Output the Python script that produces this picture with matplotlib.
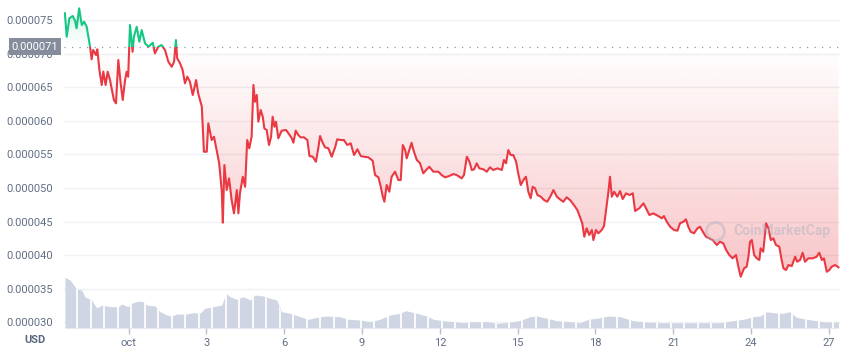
import numpy as np
import matplotlib
matplotlib.use("Agg")
import matplotlib.pyplot as plt
from matplotlib.patches import Rectangle

# ---------------- data ----------------
# time in days relative to the "oct" tick; price in millionths of USD
day = [-2.46, -2.39, -2.29, -2.16, -2.07, -2.01, -1.91, -1.81, -1.72, -1.62,
       -1.49, -1.43, -1.37, -1.26, -1.21, -1.13, -1.04, -0.98, -0.89, -0.81,
       -0.72, -0.66, -0.57, -0.49, -0.40, -0.31, -0.23, -0.14, -0.08, -0.02,
       0.05, 0.15, 0.20, 0.31, 0.41, 0.50, 0.63, 0.76, 0.93, 1.01,
       1.14, 1.27, 1.40, 1.53, 1.66, 1.75, 1.82, 1.87, 1.98, 2.08,
       2.17, 2.26, 2.36, 2.47, 2.60, 2.68, 2.82, 2.90, 3.01, 3.07,
       3.20, 3.29, 3.39, 3.49, 3.59, 3.63, 3.69, 3.78, 3.87, 3.97,
       4.06, 4.17, 4.23, 4.29, 4.40, 4.49, 4.57, 4.65, 4.74, 4.81,
       4.87, 4.94, 5.00, 5.09, 5.17, 5.23, 5.32, 5.41, 5.49, 5.55,
       5.62, 5.68, 5.77, 5.90, 6.07, 6.16, 6.29, 6.35, 6.44, 6.54,
       6.63, 6.76, 6.89, 6.97, 7.10, 7.22, 7.31, 7.38, 7.48, 7.57,
       7.70, 7.83, 7.96, 8.04, 8.18, 8.30, 8.43, 8.56, 8.69, 8.82,
       8.95, 9.07, 9.24, 9.41, 9.50, 9.63, 9.72, 9.80, 9.86, 9.95,
       10.05, 10.14, 10.27, 10.40, 10.49, 10.57, 10.66, 10.72, 10.82, 10.91,
       10.98, 11.11, 11.23, 11.36, 11.47, 11.59, 11.75, 11.94, 12.07, 12.20,
       12.36, 12.52, 12.65, 12.84, 12.93, 13.04, 13.14, 13.23, 13.32, 13.42,
       13.52, 13.68, 13.81, 13.93, 14.06, 14.22, 14.39, 14.47, 14.55, 14.64,
       14.73, 14.83, 14.94, 15.02, 15.12, 15.22, 15.32, 15.41, 15.50, 15.58,
       15.67, 15.76, 15.89, 16.02, 16.14, 16.27, 16.38, 16.51, 16.63, 16.76,
       16.89, 17.02, 17.17, 17.30, 17.40, 17.49, 17.57, 17.66, 17.76, 17.86,
       17.92, 18.02, 18.11, 18.24, 18.33, 18.41, 18.50, 18.56, 18.63, 18.72,
       18.84, 18.95, 19.05, 19.18, 19.31, 19.44, 19.53, 19.69, 19.85, 19.95,
       20.08, 20.23, 20.42, 20.56, 20.64, 20.75, 20.88, 21.03, 21.16, 21.26,
       21.39, 21.49, 21.58, 21.67, 21.80, 21.93, 22.03, 22.14, 22.26, 22.39,
       22.52, 22.68, 22.80, 22.93, 23.04, 23.16, 23.29, 23.42, 23.51, 23.60,
       23.73, 23.83, 23.90, 23.96, 24.03, 24.12, 24.22, 24.32, 24.37, 24.47,
       24.58, 24.67, 24.76, 24.86, 24.96, 25.09, 25.18, 25.25, 25.35, 25.44,
       25.57, 25.70, 25.78, 25.89, 25.99, 26.08, 26.21, 26.38, 26.53, 26.63,
       26.73, 26.81, 26.92, 27.02, 27.11, 27.24, 27.37]

price_micro = [76.00, 72.51, 75.25, 75.60, 74.90, 73.77, 76.74, 74.26, 74.75, 74.00,
               71.03, 69.15, 70.54, 69.79, 70.64, 67.56, 65.33, 67.31, 65.33, 67.31,
               66.07, 64.84, 63.10, 62.60, 69.05, 65.58, 63.10, 66.07, 67.31, 66.56,
               74.26, 70.28, 72.51, 74.00, 71.77, 73.51, 71.53, 71.03, 71.62, 70.04,
               71.03, 71.28, 70.54, 68.79, 68.05, 68.79, 72.02, 69.30, 68.56, 67.56,
               65.58, 66.56, 65.82, 63.84, 66.07, 64.09, 62.10, 55.40, 55.40, 59.63,
               57.14, 57.63, 55.65, 53.68, 49.45, 44.84, 53.42, 49.70, 51.44, 48.21,
               46.23, 49.70, 46.23, 49.21, 51.68, 50.19, 57.14, 55.91, 57.63, 65.33,
               62.84, 63.84, 59.87, 61.61, 60.61, 58.88, 58.63, 56.40, 57.63, 60.61,
               59.12, 59.87, 57.40, 58.53, 58.63, 58.14, 57.40, 56.74, 58.53, 57.89,
               57.54, 57.54, 57.14, 54.76, 54.66, 53.91, 55.91, 57.74, 56.74, 56.06,
               55.91, 54.66, 56.06, 57.25, 57.14, 57.14, 56.40, 56.65, 54.91, 55.76,
               54.76, 54.66, 54.57, 54.06, 51.93, 51.59, 50.19, 48.71, 47.96, 50.45,
               49.45, 51.68, 52.43, 51.19, 51.19, 56.40, 55.65, 54.42, 55.65, 56.74,
               55.65, 54.17, 53.72, 52.19, 52.68, 53.17, 52.43, 52.43, 51.93, 51.59,
               51.79, 52.08, 51.93, 51.44, 51.93, 54.66, 53.91, 52.68, 52.78, 53.68,
               52.93, 52.78, 52.43, 53.08, 52.68, 52.93, 52.68, 54.17, 53.68, 55.65,
               54.91, 54.91, 53.91, 52.19, 50.45, 51.19, 51.68, 49.45, 48.47, 50.19,
               49.96, 48.96, 48.71, 48.21, 47.96, 48.81, 49.70, 48.71, 48.32, 47.96,
               48.62, 48.21, 47.47, 46.73, 45.73, 44.75, 42.75, 44.00, 43.01, 43.75,
               42.26, 43.75, 43.26, 43.75, 44.35, 46.73, 49.45, 51.68, 48.71, 49.45,
               48.71, 49.55, 48.36, 49.21, 48.96, 49.21, 46.58, 46.98, 47.72, 46.98,
               45.98, 46.23, 45.83, 45.49, 45.83, 44.98, 44.24, 43.75, 43.65, 44.75,
               44.98, 45.34, 44.24, 43.50, 43.26, 44.00, 44.24, 43.50, 42.75, 42.51,
               42.26, 41.52, 42.01, 41.77, 40.77, 40.03, 39.54, 40.03, 38.29, 36.80,
               38.05, 38.29, 39.78, 42.01, 42.26, 40.03, 39.54, 39.29, 41.03, 40.52,
               44.75, 44.00, 42.26, 42.51, 41.52, 41.27, 39.29, 38.05, 37.80, 38.54,
               38.39, 39.78, 39.03, 39.29, 40.37, 39.03, 39.54, 39.54, 39.78, 40.37,
               39.29, 39.54, 37.54, 37.80, 38.29, 38.54, 38.20]

# relative 24h trading volume (arbitrary units)
vol_day = [-2.46, -2.26, -2.01, -1.81, -1.69, -1.43, -1.23, -1.04, -0.85, -0.66,
           -0.40, -0.27, -0.02, 0.15, 0.37, 0.56, 0.69, 1.01, 1.21, 1.47,
           1.66, 1.85, 2.24, 2.49, 2.75, 2.94, 3.26, 3.59, 3.75, 3.91,
           4.17, 4.42, 4.68, 4.87, 5.19, 5.45, 5.71, 5.90, 6.22, 6.61,
           6.93, 7.25, 7.64, 8.15, 8.47, 8.92, 9.31, 9.69, 10.08, 10.46,
           10.69, 11.11, 11.49, 11.75, 12.13, 12.52, 12.90, 13.29, 13.81, 14.19,
           14.51, 14.83, 15.09, 15.48, 15.73, 16.12, 16.51, 17.02, 17.40, 17.72,
           18.05, 18.50, 18.95, 19.46, 19.98, 20.49, 21.77, 22.80, 23.32, 23.70,
           24.09, 24.35, 24.60, 24.86, 25.24, 25.48, 25.76, 26.15, 26.53, 26.92,
           27.37]
volume = [50.7, 48.0, 39.0, 38.0, 31.3, 28.0, 20.0, 23.0, 22.0, 21.3,
          21.3, 24.0, 21.3, 25.3, 27.0, 26.3, 23.0, 22.0, 16.3, 13.0,
          12.0, 14.0, 14.0, 15.3, 14.7, 19.7, 21.3, 23.0, 34.7, 31.3,
          28.7, 31.3, 28.0, 33.0, 32.0, 29.7, 28.0, 16.3, 14.7, 11.3,
          8.7, 10.7, 12.0, 11.3, 8.7, 8.0, 6.3, 8.7, 13.0, 14.7,
          17.3, 14.7, 12.0, 8.7, 7.3, 6.3, 5.3, 6.3, 6.3, 4.7,
          5.3, 6.3, 7.5, 11.3, 12.0, 9.7, 7.3, 6.3, 5.3, 8.7,
          9.7, 12.0, 11.3, 7.3, 6.0, 5.3, 5.3, 5.3, 7.3, 8.7,
          11.3, 12.0, 16.3, 15.3, 14.7, 16.3, 10.7, 8.7, 7.3, 6.0,
          6.0]

current_price_micro = 71.0
ytick_micro = [30, 35, 40, 45, 50, 55, 60, 65, 70, 75]
xtick_days = [0, 3, 6, 9, 12, 15, 18, 21, 24, 27]
xtick_labels = ["oct", "3", "6", "9", "12", "15", "18", "21", "24", "27"]

# ---------------- style ----------------
GREEN = "#16c784"
RED = "#ea3943"
GRID = "#eff1f4"
TXT = "#616e85"
VOL_COLOR = "#cfd5e2"
FONT = ["Roboto", "DejaVu Sans"]
plt.rcParams["font.family"] = FONT

W, H = 849, 349
fig = plt.figure(figsize=(W / 100, H / 100), dpi=100)
ax = fig.add_axes([64 / W, 21 / H, 776 / W, 328 / H])

x = np.array(day)
p = np.array(price_micro) * 1e-6
base = current_price_micro * 1e-6
xmin, xmax = -2.495, 27.43
ymin, ymax = 29.17e-6, 77.98e-6

# gridlines
for t in ytick_micro:
    ax.axhline(t * 1e-6, color=GRID, lw=1.0, zorder=0)

# gradient fills clipped to the area between line and current price
red_poly = ax.fill_between(x, np.minimum(p, base), base, color="none", lw=0)
green_poly = ax.fill_between(x, base, np.maximum(p, base), color="none", lw=0)

n = 256
red_img = np.zeros((n, 1, 4))
red_img[..., :3] = matplotlib.colors.to_rgb(RED)
red_img[:, 0, 3] = np.linspace(0.36, 0.0, n)  # bottom -> baseline
im_r = ax.imshow(red_img, extent=[xmin, xmax, ymin, base], origin="lower",
                 aspect="auto", zorder=1, interpolation="bilinear")
im_r.set_clip_path(red_poly.get_paths()[0], ax.transData)

green_img = np.zeros((n, 1, 4))
green_img[..., :3] = matplotlib.colors.to_rgb(GREEN)
green_img[:, 0, 3] = np.linspace(0.0, 0.22, n)  # baseline -> top
im_g = ax.imshow(green_img, extent=[xmin, xmax, base, ymax], origin="lower",
                 aspect="auto", zorder=1, interpolation="bilinear")
im_g.set_clip_path(green_poly.get_paths()[0], ax.transData)

# current price dotted line
ax.axhline(base, color="#8f96a6", lw=0.9, ls=(0, (1, 5)), zorder=2)

# price line, green above and red below the current price
l_red, = ax.plot(x, p, color=RED, lw=1.5, zorder=3, solid_joinstyle="round")
l_red.set_clip_path(Rectangle((xmin, ymin), xmax - xmin, base - ymin,
                              transform=ax.transData))
l_grn, = ax.plot(x, p, color=GREEN, lw=1.5, zorder=3, solid_joinstyle="round")
l_grn.set_clip_path(Rectangle((xmin, base), xmax - xmin, ymax - base,
                              transform=ax.transData))

ax.set_xlim(xmin, xmax)
ax.set_ylim(ymin, ymax)
for s in ax.spines.values():
    s.set_visible(False)
ax.set_yticks([t * 1e-6 for t in ytick_micro])
ax.set_yticklabels([f"{t * 1e-6:.6f}" for t in ytick_micro], color=TXT, fontsize=8)
ax.tick_params(axis="y", length=0, pad=8)
ax.set_xticks(xtick_days)
ax.set_xticklabels(xtick_labels, color=TXT, fontsize=8)
ax.tick_params(axis="x", length=4, width=1, color="#b8bec9", pad=3)

# volume on a hidden twin axis
axv = ax.twinx()
vol_poly = axv.fill_between(vol_day, 0, volume, color=VOL_COLOR, lw=0, zorder=1)
sep_x = np.arange(xmin + 0.52, xmax, 0.52)
sep = axv.vlines(sep_x, 0, max(volume) * 1.2, colors="white", lw=1.3, zorder=2)
sep.set_clip_path(vol_poly.get_paths()[0], axv.transData)
axv.set_ylim(0, 328)
axv.set_xlim(xmin, xmax)
axv.axis("off")

# current price label
fig.text(35 / W, 1 - 46.5 / H, "0.000071", color="white", fontsize=8,
         ha="center", va="center",
         bbox=dict(boxstyle="square,pad=0.28", fc="#858c9c", ec="none"))

# USD label
fig.text(35 / W, 1 - 340 / H, "USD", color="#58667e", fontsize=8,
         fontweight="bold", ha="center", va="center")

# watermark
fig.text(733 / W, 1 - 231 / H, "CoinMarketCap", color="#a8b0c0", alpha=0.45,
         fontsize=10, fontweight="bold", ha="left", va="center")
fig.lines.append(plt.Line2D([715 / W], [1 - 231 / H], marker="o", ms=13,
                            mfc="none", mec="#a8b0c0", mew=2, alpha=0.4,
                            transform=fig.transFigure))

fig.savefig("out.png", dpi=100)
